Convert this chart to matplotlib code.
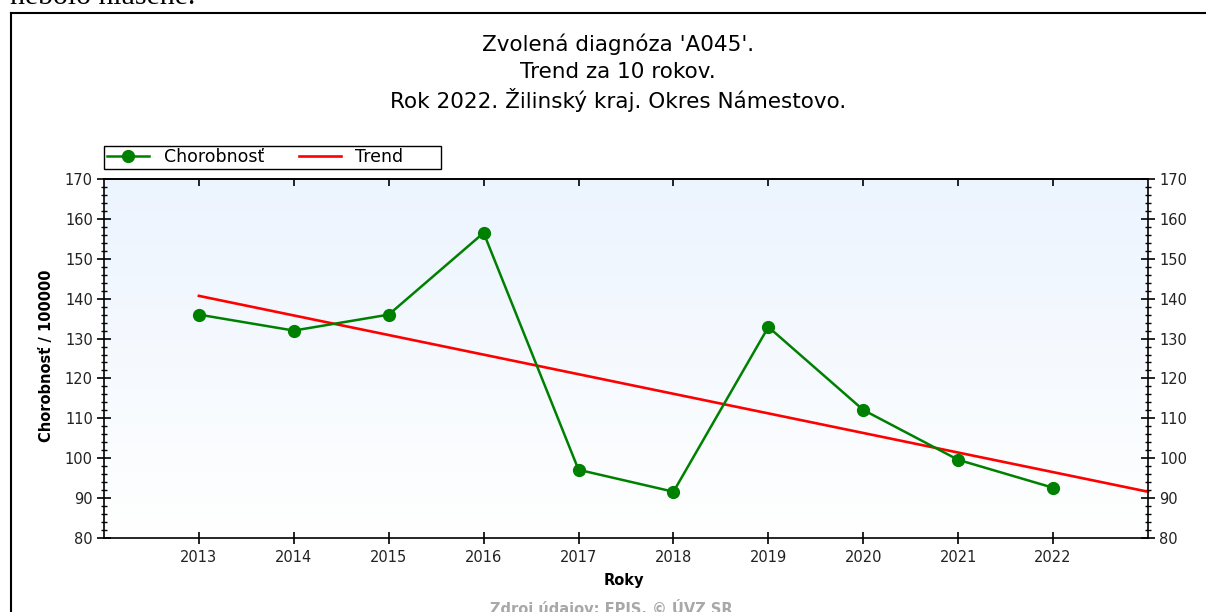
import numpy as np
import matplotlib
matplotlib.use("Agg")
import matplotlib.pyplot as plt
from matplotlib.lines import Line2D
from matplotlib.patches import Rectangle
from matplotlib.ticker import MultipleLocator

# ---- data ----
years = [2013, 2014, 2015, 2016, 2017, 2018, 2019, 2020, 2021, 2022]
morbidity = [136.0, 132.0, 136.0, 156.5, 97.1, 91.6, 132.9, 112.1, 99.6, 92.6]
trend_years = [2013, 2023]
trend_values = [140.7, 91.6]
title_lines = ["Zvolená diagnóza 'A045'.", "Trend za 10 rokov.",
               "Rok 2022. Žilinský kraj. Okres Námestovo."]
series_labels = ["Chorobnosť", "Trend"]
y_label = "Chorobnosť / 100000"
x_label = "Roky"
source_text = "Zdroj údajov: EPIS, © ÚVZ SR"

W, H = 1206, 612
fig = plt.figure(figsize=(W / 100, H / 100), dpi=100)
fig.patch.set_facecolor("white")

def fx(x):
    return x / W

def fy(y):
    return 1 - y / H

# axes area in pixels: left 104, right 1148, top 179, bottom 538
ax = fig.add_axes([fx(104), fy(538), (1148 - 104) / W, (538 - 179) / H])

# gradient background (light blue at top, white at bottom)
grad = np.linspace(0, 1, 256).reshape(-1, 1, 1)
top_c = np.array([0.925, 0.957, 0.996]).reshape(1, 1, 3)
bot_c = np.array([1.0, 1.0, 1.0]).reshape(1, 1, 3)
img = top_c * (1 - grad) + bot_c * grad
ax.imshow(img, extent=[2012, 2023, 80, 170], origin="upper", aspect="auto",
          zorder=0, interpolation="bilinear")
ax.set_xlim(2012, 2023)
ax.set_ylim(80, 170)

green = "#008000"
red = "#FF0000"
ax.plot(trend_years, trend_values, color=red, lw=1.9, zorder=3, clip_on=False)
ax.plot(years, morbidity, color=green, lw=1.8, marker="o", markersize=8.5,
        zorder=4)

for s in ax.spines.values():
    s.set_linewidth(1.2)
    s.set_color("black")
    s.set_zorder(5)

ax.set_xticks(years)
ax.set_xticklabels([str(y) for y in years])
ax.yaxis.set_major_locator(MultipleLocator(10))
ax.yaxis.set_minor_locator(MultipleLocator(2))
ax.tick_params(axis="x", which="major", direction="inout", length=9, width=1.2,
               labelsize=10.5, pad=4, colors="black", labelcolor="#222222")
ax.tick_params(axis="y", which="major", direction="inout", length=10, width=1.2,
               labelsize=10.5, left=True, right=True, labelleft=True,
               labelright=True, pad=3, labelcolor="#222222")
ax.tick_params(axis="y", which="minor", direction="inout", length=5, width=1.0,
               left=True, right=True)

sec = ax.secondary_xaxis("top")
sec.set_xticks(years)
sec.set_xticklabels([])
sec.tick_params(direction="in", length=5, width=1.2)
sec.spines["top"].set_linewidth(1.2)

# axis labels
fig.text(fx(47), fy(356), y_label, rotation=90, ha="center", va="center",
         fontsize=10.5, fontweight="bold", color="black")
fig.text(fx(624), fy(580), x_label, ha="center", va="center",
         fontsize=10.5, fontweight="bold", color="black")
fig.text(fx(611), fy(614), source_text, ha="center", va="baseline",
         fontsize=10.5, fontweight="bold", color="#A8A8A8")

# title
for i, line in enumerate(title_lines):
    fig.text(fx(618), fy(44 + 28 * i), line, ha="center", va="center",
             fontsize=15.5, color="black")

# page text and frame
fig.text(fx(10), fy(4), "nebolo hlásené.", ha="left", va="baseline",
         fontsize=21.5, family="Liberation Serif", color="black")
fig.add_artist(Line2D([fx(10.5), fx(1206)], [fy(12.5), fy(12.5)],
                      transform=fig.transFigure, color="black", lw=1.5))
fig.add_artist(Line2D([fx(10.5), fx(10.5)], [fy(12.5), fy(612)],
                      transform=fig.transFigure, color="black", lw=1.5))

# legend
handles = [Line2D([], [], color=green, lw=1.8, marker="o", markersize=8.5),
           Line2D([], [], color=red, lw=1.9)]
fig.legend(handles, series_labels, loc="center left",
           bbox_to_anchor=(fx(104), fy(157)), frameon=False, ncol=2,
           fontsize=12.5, handlelength=2.4, handletextpad=0.85,
           columnspacing=2.0, borderaxespad=0, borderpad=0.2)
fig.add_artist(Rectangle((fx(103.5), fy(168.5)), (441 - 103.5) / W,
                         (168.5 - 146) / H, transform=fig.transFigure,
                         fill=False, edgecolor="black", lw=1.0))

fig.savefig("out.png", dpi=100)
